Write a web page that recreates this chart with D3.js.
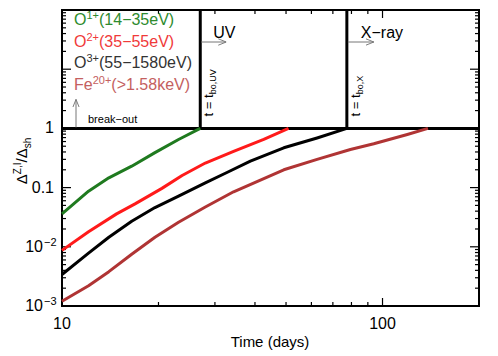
<!DOCTYPE html>
<html>
<head>
<meta charset="utf-8">
<script src="https://cdn.jsdelivr.net/npm/d3@7"></script>
<style>
  body { margin: 0; background: #fff; }
  text { font-family: "Liberation Sans", sans-serif; }
</style>
</head>
<body>
<div class="chart"></div>
<script>
// Ionisation depth vs time, one curve per ion
var svgWidth = 498;
var svgHeight = 356;

var margin = { top: 10, right: 19, bottom: 50, left: 62 };
var width = svgWidth - margin.left - margin.right;
var height = svgHeight - margin.top - margin.bottom;

// data (time in days, ratio)
var o1Time  = [10, 12.1, 14.0, 16.5, 19.5, 23.1, 27.0];
var o1Ratio = [0.036, 0.087, 0.146, 0.23, 0.39, 0.65, 1];

var o2Time  = [10, 12.1, 14.8, 16.9, 20.5, 23.7, 28.0, 34.3, 42.6, 50.9];
var o2Ratio = [0.0087, 0.018, 0.036, 0.053, 0.097, 0.16, 0.26, 0.41, 0.65, 1];

var o3Time  = [10, 12.1, 14.0, 16.5, 19.5, 23.1, 28.0, 32.7, 38.7, 49.2, 62.5, 77.4];
var o3Ratio = [0.0034, 0.0078, 0.0145, 0.027, 0.046, 0.072, 0.12, 0.18, 0.28, 0.47, 0.69, 1];

var feTime  = [10, 12.1, 14.0, 16.5, 19.5, 23.1, 28.0, 34.3, 49.2, 62.5, 79.4, 93.9, 119.5, 138.6];
var feRatio = [0.0012, 0.0022, 0.0038, 0.0075, 0.0145, 0.026, 0.047, 0.085, 0.20, 0.30, 0.44, 0.55, 0.79, 1];

var seriesNames = ["O", "O", "O", "Fe"];
var seriesCharge = ["1+", "2+", "3+", "20+"];
var seriesRange = ["(14\u221235eV)", "(35\u221255eV)", "(55\u22121580eV)", "(>1.58keV)"];
var seriesColor = ["#1f7a1f", "#ff1a1a", "#000000", "#b03434"];
var labelColor = ["#2e8b2e", "#f03a3a", "#333333", "#c46060"];

var breakoutUV = 27.0;
var breakoutX = 77.4;

var xTicks = [10, 100];
var yTickLabels = [[1e-3, "10", "\u22123"], [1e-2, "10", "\u22122"], [0.1, "0.1", ""], [1, "1", ""]];

var series = [
  d3.zip(o1Time, o1Ratio),
  d3.zip(o2Time, o2Ratio),
  d3.zip(o3Time, o3Ratio),
  d3.zip(feTime, feRatio)
];

var svg = d3.select(".chart").append("svg")
  .attr("width", svgWidth)
  .attr("height", svgHeight)
  .append("g")
  .attr("transform", "translate(" + margin.left + "," + margin.top + ")");

var x = d3.scaleLog().domain([10, 200]).range([0, width]);
var y = d3.scaleLog().domain([1e-3, 100]).range([height, 0]);

// minor + major ticks
var xMinor = d3.range(20, 100, 10);
var yMajor = [1e-3, 1e-2, 0.1, 1, 10, 100];
var yMinor = [];
[1e-3, 1e-2, 0.1, 1, 10].forEach(function(d) {
  for (var k = 2; k <= 9; k++) yMinor.push(d * k);
});

function tick(x1, y1, x2, y2) {
  svg.append("line").attr("x1", x1).attr("y1", y1).attr("x2", x2).attr("y2", y2)
    .attr("stroke", "#000").attr("stroke-width", 1.2);
}
xMinor.forEach(function(d) {
  tick(x(d), height, x(d), height - 4);
  tick(x(d), 0, x(d), 4);
});
xTicks.forEach(function(d) {
  tick(x(d), height, x(d), height - 8);
  tick(x(d), 0, x(d), 8);
});
yMinor.forEach(function(d) {
  tick(0, y(d), 4, y(d));
  tick(width, y(d), width - 4, y(d));
});
yMajor.forEach(function(d) {
  tick(0, y(d), 9, y(d));
  tick(width, y(d), width - 9, y(d));
});

// frame
svg.append("rect").attr("width", width).attr("height", height)
  .attr("fill", "none").attr("stroke", "#000").attr("stroke-width", 2);

// line at ratio = 1 and break-out times
svg.append("line").attr("x1", 0).attr("x2", width).attr("y1", y(1)).attr("y2", y(1))
  .attr("stroke", "#000").attr("stroke-width", 3);
[breakoutUV, breakoutX].forEach(function(t) {
  svg.append("line").attr("x1", x(t)).attr("x2", x(t)).attr("y1", 0).attr("y2", y(1))
    .attr("stroke", "#000").attr("stroke-width", 3);
});

// curves
var line = d3.line()
  .x(function(d) { return x(d[0]); })
  .y(function(d) { return y(d[1]); });

series.forEach(function(s, i) {
  svg.append("path").datum(s)
    .attr("d", line)
    .attr("fill", "none")
    .attr("stroke", seriesColor[i])
    .attr("stroke-width", 3)
    .attr("stroke-linejoin", "round");
});

// legend text
series.forEach(function(s, i) {
  var t = svg.append("text")
    .attr("x", 12)
    .attr("y", 15 + i * 21.7)
    .attr("fill", labelColor[i])
    .attr("font-size", 16);
  t.append("tspan").text(seriesNames[i]);
  t.append("tspan").attr("dy", -6).attr("font-size", 11).text(seriesCharge[i]);
  t.append("tspan").attr("dy", 6).text(seriesRange[i]);
});

// arrows
var defs = d3.select("svg").append("defs");
defs.append("marker").attr("id", "arr")
  .attr("viewBox", "0 0 10 10").attr("refX", 10).attr("refY", 5)
  .attr("markerWidth", 8).attr("markerHeight", 8).attr("orient", "auto")
  .append("path").attr("d", "M0,1 L10,5 L0,9").attr("fill", "none").attr("stroke", "#777").attr("stroke-width", 1.2);

function arrow(x1, y1, x2, y2) {
  svg.append("line").attr("x1", x1).attr("y1", y1).attr("x2", x2).attr("y2", y2)
    .attr("stroke", "#777").attr("stroke-width", 1).attr("marker-end", "url(#arr)");
}
arrow(x(breakoutUV) + 1, 32, x(breakoutUV) + 26, 32);
arrow(x(breakoutX) + 1, 32, x(breakoutX) + 27, 32);
arrow(14, y(1) - 1, 14, y(1) - 29);

svg.append("text").attr("x", x(breakoutUV) + 13).attr("y", 28)
  .attr("font-size", 16).attr("fill", "#000").text("UV");
svg.append("text").attr("x", x(breakoutX) + 14).attr("y", 28)
  .attr("font-size", 16).attr("fill", "#000").text("X\u2212ray");
svg.append("text").attr("x", 26).attr("y", y(1) - 5)
  .attr("font-size", 11).attr("fill", "#000").text("break\u2212out");

// vertical labels at break-out times
function vlabel(t, sub) {
  var g = svg.append("text")
    .attr("transform", "translate(" + (x(t) + 13) + "," + (y(1) - 12) + ") rotate(-90)")
    .attr("font-size", 13).attr("fill", "#000");
  g.append("tspan").text("t = t");
  g.append("tspan").attr("dy", 3).attr("font-size", 9).text(sub);
}
vlabel(breakoutUV, "bo,UV");
vlabel(breakoutX, "bo,X");

// y tick labels
yTickLabels.forEach(function(d) {
  var t = svg.append("text")
    .attr("x", d[2] ? -19 : -8)
    .attr("y", y(d[0]) + 5)
    .attr("text-anchor", "end")
    .attr("font-size", 16)
    .attr("fill", "#000");
  t.append("tspan").text(d[1]);
  if (d[2]) {
    svg.append("text").attr("x", -18).attr("y", y(d[0]) - 1)
      .attr("font-size", 11).attr("fill", "#000").text(d[2]);
  }
});

// x tick labels
xTicks.forEach(function(d) {
  svg.append("text").attr("x", x(d)).attr("y", height + 23)
    .attr("text-anchor", "middle").attr("font-size", 16).attr("fill", "#000")
    .text(d3.format("d")(d));
});

svg.append("text").attr("x", x(10) + 208).attr("y", height + 41)
  .attr("text-anchor", "middle").attr("font-size", 15).attr("fill", "#000")
  .text("Time (days)");

// y axis label
var yl = svg.append("text")
  .attr("transform", "translate(" + (-35) + "," + (height / 2 + 3) + ") rotate(-90)")
  .attr("text-anchor", "middle").attr("font-size", 15).attr("fill", "#000");
yl.append("tspan").text("\u0394");
yl.append("tspan").attr("dy", -6).attr("font-size", 10).text("Z,I");
yl.append("tspan").attr("dy", 6).text("/\u0394");
yl.append("tspan").attr("dy", 4).attr("font-size", 10).text("sh");
</script>
</body>
</html>
